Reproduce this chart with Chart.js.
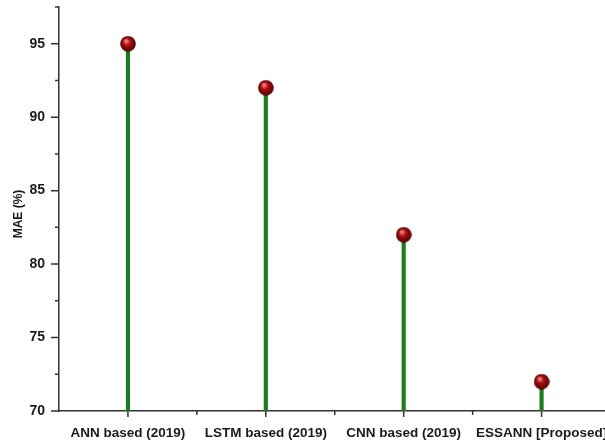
<!DOCTYPE html>
<html>
<head>
<meta charset="utf-8">
<script src="https://cdn.jsdelivr.net/npm/chart.js@4/dist/chart.umd.min.js"></script>
<style>
  html, body { margin: 0; padding: 0; background: #fff; }
  #wrap { width: 605px; height: 444px; }
</style>
</head>
<body>
<div id="wrap"><canvas id="maeCanvas"></canvas></div>
<script>
const methods = ["ANN based (2019)", "LSTM based (2019)", "CNN based (2019)", "ESSANN [Proposed]"];
const maeValues = [95, 92, 82, 72];
const yTicks = [70, 75, 80, 85, 90, 95];

const points = maeValues.map((v, i) => ({ x: i, y: v }));

// little shaded ball used as the point marker
const ball = document.createElement("canvas");
ball.width = 16; ball.height = 16;
const bctx = ball.getContext("2d");
const grad = bctx.createRadialGradient(6, 5, 1, 8, 8, 8);
grad.addColorStop(0, "#f08080");
grad.addColorStop(0.35, "#b01010");
grad.addColorStop(1, "#4a0000");
bctx.fillStyle = grad;
bctx.beginPath();
bctx.arc(8, 8, 7.8, 0, Math.PI * 2);
bctx.fill();

const axisColor = "#333";

// extra tick marks (major + minor) on both axes
const tickMarks = {
  id: "tickMarks",
  afterDraw(chart) {
    const ctx = chart.ctx;
    const x = chart.scales.x, y = chart.scales.y;
    ctx.save();
    ctx.strokeStyle = axisColor;
    ctx.lineWidth = 1.5;
    ctx.beginPath();
    for (let v = 70; v <= 97.5; v += 2.5) {
      const py = y.getPixelForValue(v);
      const len = (v % 5 === 0) ? 8 : 4;
      ctx.moveTo(x.left - len, py);
      ctx.lineTo(x.left, py);
    }
    for (let i = 0; i < methods.length; i++) {
      const px = x.getPixelForValue(i);
      ctx.moveTo(px, y.bottom);
      ctx.lineTo(px, y.bottom + 6);
      const bx = x.getPixelForValue(i + 0.5);
      if (bx < chart.width) {
        ctx.moveTo(bx, y.bottom);
        ctx.lineTo(bx, y.bottom + 4);
      }
    }
    ctx.stroke();
    ctx.restore();
  }
};

new Chart(document.getElementById("maeCanvas"), {
  type: "bar",
  data: {
    datasets: [
      {
        type: "scatter",
        data: points,
        pointStyle: ball,
        pointRadius: 7.5,
        pointHoverRadius: 7.5,
        clip: false,
        order: 0
      },
      {
        type: "bar",
        data: points,
        backgroundColor: "#1e7a1e",
        barThickness: 3.5,
        order: 1
      }
    ]
  },
  options: {
    responsive: true,
    maintainAspectRatio: false,
    animation: false,
    layout: { autoPadding: false, padding: { top: 7, right: 0, left: 0, bottom: 0 } },
    plugins: {
      legend: { display: false },
      tooltip: { enabled: false }
    },
    scales: {
      x: {
        type: "linear",
        min: -0.5,
        max: 3.46,
        offset: false,
        grid: { display: false },
        border: { display: true, color: axisColor, width: 1.5 },
        afterBuildTicks(scale) {
          scale.ticks = methods.map((m, i) => ({ value: i }));
        },
        ticks: {
          color: "#1a1a1a",
          font: { family: "Liberation Sans", weight: "bold", size: 13.5 },
          padding: 6,
          maxRotation: 0,
          autoSkip: false,
          callback: (v) => methods[v]
        },
        afterFit(scale) {
          scale.height = 33;
          scale.paddingLeft = 0;
          scale.paddingRight = 0;
        }
      },
      y: {
        min: 70,
        max: 97.5,
        grid: { display: false },
        border: { display: true, color: axisColor, width: 1.5 },
        afterBuildTicks(scale) {
          scale.ticks = yTicks.map(v => ({ value: v }));
        },
        ticks: {
          color: "#1a1a1a",
          font: { family: "Liberation Sans", weight: "bold", size: 14 },
          padding: 6
        },
        title: {
          display: true,
          text: "MAE (%)   ",
          color: "#1a1a1a",
          font: { family: "Liberation Sans", weight: "bold", size: 12 },
          padding: { top: 11, bottom: 0 }
        },
        afterFit(scale) {
          scale.width = 59;
          scale.paddingTop = 0;
          scale.paddingBottom = 0;
        }
      }
    }
  },
  plugins: [tickMarks]
});
</script>
</body>
</html>
